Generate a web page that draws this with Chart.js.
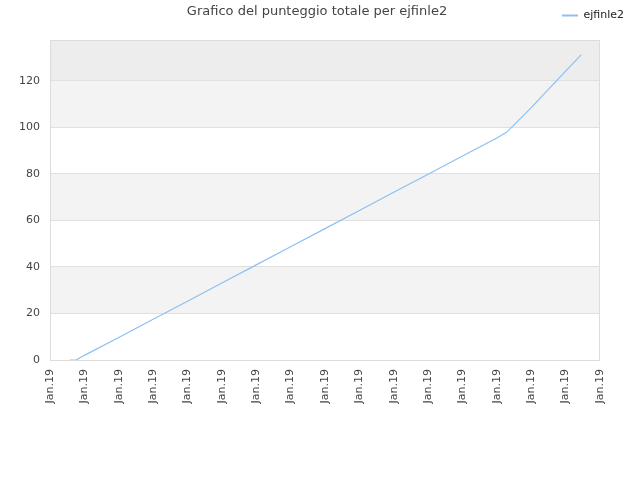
<!DOCTYPE html>
<html>
<head>
<meta charset="utf-8">
<script src="https://cdn.jsdelivr.net/npm/chart.js@4/dist/chart.umd.min.js"></script>
<style>
  html, body { margin: 0; padding: 0; background: #fff; }
  #wrap { width: 640px; height: 480px; }
</style>
</head>
<body>
<div id="wrap"><canvas id="lineChart" width="640" height="480"></canvas></div>
<script>
// data (x in tick units, one tick per label)
var titleText = 'Grafico del punteggio totale per ejfinle2';
var seriesName = 'ejfinle2';
var tickLabels = ['Jan.19', 'Jan.19', 'Jan.19', 'Jan.19', 'Jan.19', 'Jan.19', 'Jan.19', 'Jan.19', 'Jan.19',
                  'Jan.19', 'Jan.19', 'Jan.19', 'Jan.19', 'Jan.19', 'Jan.19', 'Jan.19', 'Jan.19'];
var days   = [0.58, 0.76, 1, 2, 3, 4, 5, 6, 7, 8, 9, 10, 11, 12, 13, 13.29, 14, 15, 15.45];
var scores = [0, 0, 2, 9.7, 17.5, 25.3, 33.1, 40.9, 48.7, 56.5, 64.3, 72.1, 79.9, 87.7, 95.5, 98, 108.5, 124.2, 131.2];
var yMax = 137.6;

var points = days.map(function (d, i) { return { x: d, y: scores[i] }; });

var bgPlugin = {
    id: 'bands',
    beforeDraw: function (chart) {
        var c = chart.ctx, a = chart.chartArea, y = chart.scales.y;
        c.save();
        c.fillStyle = '#f3f3f3';
        [[20, 40], [60, 80], [100, 120]].forEach(function (b) {
            var t = y.getPixelForValue(b[1]), bt = y.getPixelForValue(b[0]);
            c.fillRect(a.left, t, a.right - a.left, bt - t);
        });
        c.fillStyle = '#ededed';
        var top = y.getPixelForValue(120);
        c.fillRect(a.left, a.top, a.right - a.left, top - a.top);
        c.restore();
    },
    afterDraw: function (chart) {
        var c = chart.ctx, a = chart.chartArea;
        c.save();
        c.strokeStyle = '#dcdcdc';
        c.lineWidth = 1;
        c.strokeRect(a.left + 0.5, a.top + 0.5, a.right - a.left - 1, a.bottom - a.top);
        c.fillStyle = '#444';
        c.font = '13px "DejaVu Sans"';
        c.textAlign = 'center';
        c.textBaseline = 'middle';
        c.fillText(titleText, 317, 12);
        c.restore();
    }
};

var ctx = document.getElementById('lineChart').getContext('2d');
var myChart = new Chart(ctx, {
    type: 'line',
    data: {
        datasets: [{
            label: seriesName,
            data: points,
            borderColor: '#8cc0f2',
            backgroundColor: '#8cc0f2',
            borderWidth: 1.2,
            pointRadius: 0,
            tension: 0,
            fill: false
        }]
    },
    options: {
        responsive: false,
        animation: false,
        layout: { padding: { top: 0, right: 6, left: 0, bottom: 0 } },
        plugins: {
            title: { display: false },
            tooltip: { enabled: false },
            legend: {
                position: 'top',
                align: 'end',
                labels: {
                    usePointStyle: true,
                    pointStyle: 'line',
                    boxWidth: 11,
                    pointStyleWidth: 16,
                    color: '#222',
                    font: { family: 'DejaVu Sans', size: 11 },
                    generateLabels: function (chart) {
                        var items = Chart.defaults.plugins.legend.labels.generateLabels(chart);
                        items.forEach(function (it) {
                            it.strokeStyle = '#8cc0f2';
                            it.lineWidth = 2;
                        });
                        return items;
                    }
                }
            }
        },
        scales: {
            x: {
                type: 'linear',
                min: 0,
                max: 16,
                afterBuildTicks: function (s) {
                    s.ticks = tickLabels.map(function (l, i) { return { value: i }; });
                },
                afterFit: function (s) { s.height = 120; },
                ticks: {
                    stepSize: 1,
                    autoSkip: false,
                    maxRotation: 90,
                    minRotation: 90,
                    padding: 9,
                    color: '#444',
                    font: { family: 'DejaVu Sans', size: 11 },
                    callback: function (v, i) { return tickLabels[i]; }
                },
                grid: { display: false, drawTicks: false },
                border: { display: false }
            },
            top: {
                type: 'linear',
                position: 'top',
                afterFit: function (s) { s.height = 9; },
                ticks: { display: false },
                grid: { display: false, drawTicks: false },
                border: { display: false }
            },
            y: {
                min: 0,
                max: yMax,
                afterBuildTicks: function (s) {
                    s.ticks = s.ticks.filter(function (t) { return t.value % 20 === 0; });
                },
                afterFit: function (s) { s.width = 50; },
                ticks: {
                    stepSize: 20,
                    padding: 10,
                    color: '#444',
                    font: { family: 'DejaVu Sans', size: 11 }
                },
                grid: { color: '#e0e0e0', drawTicks: false },
                border: { display: false }
            },
            right: {
                position: 'right',
                afterFit: function (s) { s.width = 34; },
                ticks: { display: false },
                grid: { display: false, drawTicks: false },
                border: { display: false }
            }
        }
    },
    plugins: [bgPlugin]
});
</script>
</body>
</html>
